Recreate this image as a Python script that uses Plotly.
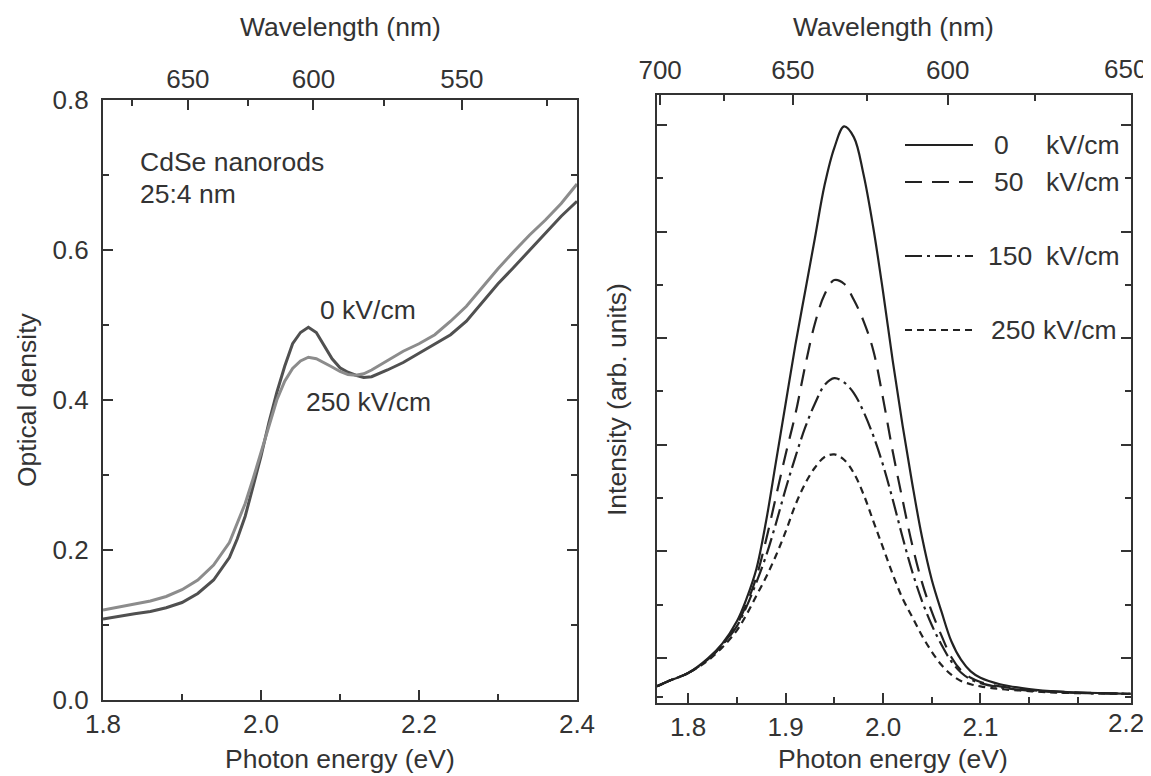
import plotly.graph_objects as go

# ---------------- data: left panel (absorption) ----------------
abs_energy = [1.80, 1.82, 1.84, 1.86, 1.88, 1.90, 1.92, 1.94, 1.96, 1.97, 1.98, 1.99,
              2.00, 2.01, 2.02, 2.03, 2.04, 2.05, 2.06, 2.07, 2.08, 2.09, 2.10, 2.11,
              2.12, 2.13, 2.14, 2.15, 2.16, 2.18, 2.20, 2.22, 2.24, 2.26, 2.28, 2.30,
              2.32, 2.34, 2.36, 2.38, 2.40]
od_0kV = [0.108, 0.112, 0.115, 0.118, 0.123, 0.130, 0.142, 0.160, 0.190, 0.215, 0.245, 0.285,
          0.325, 0.370, 0.410, 0.445, 0.475, 0.490, 0.497, 0.490, 0.472, 0.455, 0.443, 0.437,
          0.433, 0.430, 0.431, 0.435, 0.440, 0.450, 0.462, 0.475, 0.487, 0.505, 0.530, 0.555,
          0.577, 0.600, 0.622, 0.645, 0.665]
od_250kV = [0.120, 0.124, 0.128, 0.132, 0.138, 0.147, 0.160, 0.180, 0.210, 0.235, 0.262, 0.295,
            0.330, 0.368, 0.400, 0.425, 0.442, 0.452, 0.457, 0.455, 0.450, 0.444, 0.438, 0.434,
            0.433, 0.435, 0.440, 0.446, 0.452, 0.465, 0.475, 0.487, 0.505, 0.525, 0.550, 0.575,
            0.598, 0.620, 0.640, 0.662, 0.688]

# ---------------- data: right panel (photoluminescence) ----------------
pl_energy = [1.768, 1.78, 1.80, 1.82, 1.835, 1.85, 1.86, 1.87, 1.88, 1.89, 1.90, 1.91,
             1.92, 1.93, 1.94, 1.95, 1.96, 1.97, 1.98, 1.99, 2.00, 2.01, 2.02, 2.03,
             2.04, 2.05, 2.06, 2.07, 2.08, 2.09, 2.10, 2.12, 2.15, 2.18, 2.21, 2.254]
pl_0kV = [0.20, 0.30, 0.45, 0.72, 1.00, 1.42, 1.85, 2.40, 3.30, 4.40, 5.50, 6.60,
          7.60, 8.60, 9.60, 10.30, 10.70, 10.50, 9.80, 8.80, 7.60, 6.30, 5.10, 4.00,
          3.00, 2.20, 1.60, 1.05, 0.70, 0.48, 0.36, 0.24, 0.15, 0.10, 0.08, 0.06]
pl_50kV = [0.20, 0.30, 0.45, 0.70, 0.98, 1.36, 1.75, 2.25, 2.95, 3.75, 4.55, 5.30,
           6.20, 7.00, 7.55, 7.82, 7.75, 7.45, 7.05, 6.50, 5.60, 4.60, 3.70, 2.85,
           2.15, 1.60, 1.15, 0.75, 0.50, 0.36, 0.28, 0.20, 0.13, 0.10, 0.08, 0.06]
pl_150kV = [0.20, 0.30, 0.45, 0.70, 0.97, 1.33, 1.70, 2.15, 2.65, 3.25, 3.90, 4.50,
            5.05, 5.50, 5.85, 5.98, 5.90, 5.70, 5.35, 4.90, 4.35, 3.70, 3.00, 2.35,
            1.80, 1.35, 0.98, 0.67, 0.46, 0.33, 0.26, 0.18, 0.12, 0.09, 0.07, 0.06]
pl_250kV = [0.20, 0.30, 0.45, 0.68, 0.93, 1.25, 1.55, 1.90, 2.25, 2.65, 3.10, 3.60,
            4.00, 4.30, 4.50, 4.55, 4.45, 4.20, 3.80, 3.30, 2.80, 2.30, 1.85, 1.50,
            1.15, 0.85, 0.60, 0.42, 0.30, 0.24, 0.20, 0.15, 0.11, 0.08, 0.07, 0.06]

# ---------------- tick labels ----------------
HC = 1239.84  # eV*nm
left_bottom_ticks = [1.8, 2.0, 2.2, 2.4]
left_bottom_minor = [1.9, 2.1, 2.3]
left_top_wl = [650, 600, 550]
left_top_wl_minor = [675, 625, 575, 525]
left_y_ticks = [0.0, 0.2, 0.4, 0.6, 0.8]

right_bottom_ticks = [1.8, 1.9, 2.0, 2.1, 2.2543]
right_bottom_text = ["1.8", "1.9", "2.0", "2.1", ""]
right_bottom_edge_label = "2.2"
right_bottom_minor = [1.85, 1.95, 2.05, 2.15, 2.2]
right_top_wl = [700, 650, 600, 550]
right_top_text = ["700", "650", "600", ""]
right_top_edge_label = "650"
right_top_wl_minor = [675, 625, 575]
right_y_major = [0.73, 2.73, 4.73, 6.73, 8.73, 10.73]
right_y_minor = [0.0, 1.73, 3.73, 5.73, 7.73, 9.73]

legend_numbers = ["0", "50", "150", "250"]

OFF = 8                      # the page body margin of the browser
W, H = 1151 - OFF, 776 - OFF
FONT = "Liberation Sans, Arial, Helvetica, sans-serif"
TXT = "#333333"
AX = "#333333"
FS = 26.5
TFS = 26

fig = go.Figure()

# left panel
fig.add_trace(go.Scatter(x=abs_energy, y=od_0kV, mode="lines", xaxis="x", yaxis="y",
                         line=dict(color="#505050", width=3), showlegend=False, name="0 kV/cm"))
fig.add_trace(go.Scatter(x=abs_energy, y=od_250kV, mode="lines", xaxis="x3", yaxis="y",
                         line=dict(color="#8c8c8c", width=3), showlegend=False, name="250 kV/cm"))

# right panel
styles = [("solid", pl_0kV), ("17px,10px", pl_50kV), ("17px,5px,3px,5px", pl_150kV), ("7px,5px", pl_250kV)]
for i, (dash, vals) in enumerate(styles):
    fig.add_trace(go.Scatter(x=pl_energy, y=vals, mode="lines", line_shape="spline",
                             xaxis="x4" if i == 0 else "x2", yaxis="y2",
                             line=dict(color="#222222", width=2.2, dash=dash),
                             showlegend=False, name=legend_numbers[i] + " kV/cm"))

def px2paper_x(px):
    return (px - OFF) / W

def px2paper_y(py):
    return 1 - (py - OFF) / H

common = dict(showgrid=False, zeroline=False, showline=True, linecolor=AX, linewidth=2.2,
              ticks="inside", tickcolor=AX, tickwidth=2, ticklen=10, automargin=False,
              ticklabeloverflow="allow",
              tickfont=dict(family=FONT, size=TFS, color=TXT))

lx = [px2paper_x(103), px2paper_x(577)]
ly = [px2paper_y(700), px2paper_y(100)]
rx = [px2paper_x(657), px2paper_x(1131)]
ry = [px2paper_y(703), px2paper_y(95)]

fig.update_layout(
    width=W, height=H, margin=dict(l=0, r=0, t=0, b=0, pad=0, autoexpand=False),
    paper_bgcolor="white", plot_bgcolor="white",
    font=dict(family=FONT, size=FS, color=TXT),
    xaxis=dict(domain=lx, range=[1.8, 2.4], anchor="y",
               tickmode="array", tickvals=left_bottom_ticks,
               ticktext=[f"{v:.1f}" for v in left_bottom_ticks],
               minor=dict(tickmode="array", tickvals=left_bottom_minor, ticks="inside",
                          ticklen=6, tickwidth=2, tickcolor=AX),
               ticklabelstandoff=0, **common),
    xaxis3=dict(overlaying="x", side="top", anchor="y", range=[1.8, 2.4],
                tickmode="array", tickvals=[HC / w for w in left_top_wl],
                ticktext=[str(w) for w in left_top_wl],
                minor=dict(tickmode="array", tickvals=[HC / w for w in left_top_wl_minor],
                           ticks="inside", ticklen=6, tickwidth=2, tickcolor=AX),
                ticklabelstandoff=0, **common),
    yaxis=dict(domain=ly, range=[0, 0.8], anchor="x", mirror="ticks",
               tickmode="array", tickvals=left_y_ticks,
               ticktext=[f"{v:.1f}" for v in left_y_ticks],
               minor=dict(dtick=0.1, ticks="inside", ticklen=6, tickwidth=2, tickcolor=AX),
               ticklabelstandoff=7, **common),
    xaxis2=dict(domain=rx, range=[1.768, 2.2545], anchor="y2",
                tickmode="array", tickvals=right_bottom_ticks, ticktext=right_bottom_text,
                minor=dict(tickmode="array", tickvals=right_bottom_minor, ticks="inside",
                           ticklen=6, tickwidth=2, tickcolor=AX),
                ticklabelstandoff=0, **common),
    xaxis4=dict(overlaying="x2", side="top", anchor="y2", range=[1.768, 2.2545],
                tickmode="array", tickvals=[HC / w for w in right_top_wl], ticktext=right_top_text,
                minor=dict(tickmode="array", tickvals=[HC / w for w in right_top_wl_minor],
                           ticks="inside", ticklen=6, tickwidth=2, tickcolor=AX),
                ticklabelstandoff=4, **common),
    yaxis2=dict(domain=ry, range=[-0.1125, 11.29], anchor="x2", mirror="ticks",
                tickmode="array", tickvals=right_y_major, showticklabels=False,
                minor=dict(tickmode="array", tickvals=right_y_minor, ticks="inside",
                           ticklen=6, tickwidth=2, tickcolor=AX),
                **common),
)

ann = []
def txt(text, x, y, xref="paper", yref="paper", xanchor="center", yanchor="middle", angle=0, size=FS):
    ann.append(dict(text=text, x=x, y=y, xref=xref, yref=yref, xanchor=xanchor,
                    yanchor=yanchor, showarrow=False, textangle=angle,
                    font=dict(family=FONT, size=size, color=TXT)))

# axis titles
txt("Wavelength (nm)", px2paper_x(340), px2paper_y(27))
txt("Wavelength (nm)", px2paper_x(893), px2paper_y(27))
txt("Photon energy (eV)", px2paper_x(340), px2paper_y(759))
txt("Photon energy (eV)", px2paper_x(893), px2paper_y(759))
txt("Optical density", px2paper_x(27), px2paper_y(400), angle=-90)
txt("Intensity (arb. units)", px2paper_x(617), px2paper_y(400), angle=-90)

# tick labels that sit on the right edge of the figure
txt(right_bottom_edge_label, px2paper_x(1146), px2paper_y(723), xanchor="right", size=TFS)
txt(right_top_edge_label, px2paper_x(1149), px2paper_y(69), xanchor="right", size=TFS)

# left panel labels
txt("CdSe nanorods", 1.844, 0.717, "x", "y", xanchor="left")
txt("25:4 nm", 1.844, 0.675, "x", "y", xanchor="left")
txt("0 kV/cm", 2.072, 0.52, "x", "y", xanchor="left")
txt("250 kV/cm", 2.054, 0.397, "x", "y", xanchor="left")

# right panel legend
rows_px = [145, 182, 256, 330]
num_x = [992, 992, 986, 989]
unit_x = [1044, 1044, 1044, 1041]
shapes = []
for i, (dash, _) in enumerate(styles):
    yp = px2paper_y(rows_px[i])
    shapes.append(dict(type="line", xref="paper", yref="paper",
                       x0=px2paper_x(905), x1=px2paper_x(973), y0=yp, y1=yp,
                       line=dict(color="#222222", width=2.2, dash=dash)))
    txt(legend_numbers[i], px2paper_x(num_x[i]), yp, xanchor="left")
    txt("kV/cm", px2paper_x(unit_x[i]), yp, xanchor="left")

fig.update_layout(annotations=ann, shapes=shapes)

fig.write_html("out.html")
